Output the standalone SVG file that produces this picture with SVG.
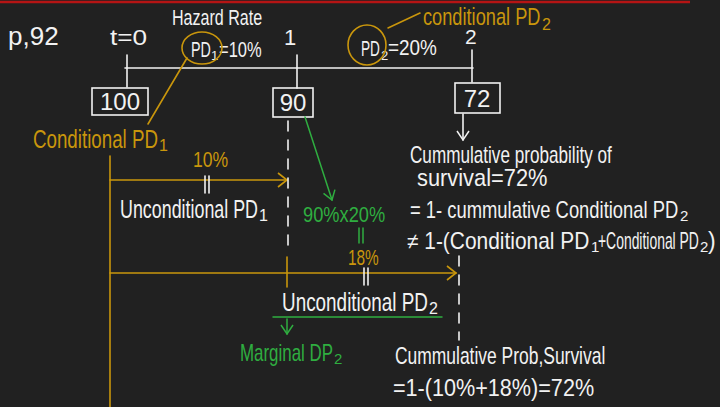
<svg xmlns="http://www.w3.org/2000/svg" width="720" height="407" viewBox="0 0 720 407">
<style>
text{font-family:"Liberation Sans","DejaVu Sans",sans-serif;}
.w{fill:#f2f2f2;}
.g{fill:#c9960c;}
.gr{fill:#2fae40;}
.lw{stroke:#f2f2f2;stroke-width:1.6;fill:none;stroke-linecap:round;}
.lg{stroke:#c9960c;stroke-width:1.6;fill:none;stroke-linecap:round;}
.lgr{stroke:#2fae40;stroke-width:1.5;fill:none;stroke-linecap:round;}
.dash{stroke-dasharray:10 9;}
</style>
<defs>
<marker id="chevG" markerWidth="12" markerHeight="16" refX="10" refY="8" orient="auto" markerUnits="userSpaceOnUse">
<polyline points="1,1 10,8 1,15" fill="none" stroke="#c9960c" stroke-width="1.6"/>
</marker>
<marker id="chevGr" markerWidth="12" markerHeight="14" refX="10" refY="7" orient="auto" markerUnits="userSpaceOnUse">
<polyline points="1,1 10,7 1,13" fill="none" stroke="#2fae40" stroke-width="1.5"/>
</marker>
<marker id="chevW" markerWidth="12" markerHeight="14" refX="10" refY="7" orient="auto" markerUnits="userSpaceOnUse">
<polyline points="1,1 10,7 1,13" fill="none" stroke="#f2f2f2" stroke-width="1.5"/>
</marker>
</defs>
<rect width="720" height="407" fill="#212121"/>
<line x1="0" y1="2" x2="690" y2="2" stroke="#b51414" stroke-width="2.5"/>

<text class="w" x="8" y="45" font-size="26">p,92</text>
<text class="w" x="110" y="45" font-size="22" transform="matrix(1.19,0,0,1,-20.9,0)">t=0</text>
<text class="w" x="172" y="25" font-size="22" transform="matrix(0.73,0,0,1,46.44,0)">Hazard Rate</text>
<text class="w" x="284" y="45" font-size="22">1</text>
<text class="w" x="465" y="44" font-size="21">2</text>

<g id="timeline">
<line class="lw" x1="125" y1="68" x2="473" y2="68"/>
<line class="lw" x1="127" y1="55" x2="127" y2="87"/>
<line class="lw" x1="297" y1="55" x2="297" y2="88"/>
<line class="lw" x1="472" y1="50" x2="472" y2="82"/>
</g>

<g id="pd1">
<text class="w" x="191" y="57" font-size="22" transform="matrix(0.65,0,0,1,66.85,0)">PD</text>
<text class="w" x="211" y="60" font-size="13">1</text>
<text class="w" x="219" y="57" font-size="22" transform="matrix(0.75,0,0,1,54.75,0)">=10%</text>
<ellipse class="lg" cx="202" cy="48" rx="20" ry="16"/>
</g>

<g id="pd2">
<text class="w" x="361" y="56" font-size="22" transform="matrix(0.62,0,0,1,137.18,0)">PD</text>
<text class="w" x="381" y="60" font-size="13">2</text>
<text class="w" x="388" y="55" font-size="22" transform="matrix(0.86,0,0,1,54.32,0)">=20%</text>
<ellipse class="lg" cx="367" cy="45" rx="19" ry="20"/>
</g>

<g id="cond-pd2">
<text class="g" x="423" y="25" font-size="24" transform="matrix(0.76,0,0,1,101.52,0)">conditional PD</text>
<text class="g" x="542" y="30" font-size="16">2</text>
</g>

<g id="node-100">
<rect class="lw" x="92" y="88" width="56" height="27"/>
<text class="w" x="120" y="110" font-size="24" text-anchor="middle">100</text>
</g>
<g id="node-90">
<rect class="lw" x="273" y="88" width="40" height="29"/>
<text class="w" x="293" y="111" font-size="24" text-anchor="middle">90</text>
</g>
<g id="node-72">
<rect class="lw" x="455" y="83" width="45" height="30"/>
<text class="w" x="477" y="107" font-size="24" text-anchor="middle">72</text>
</g>

<g id="cond-pd1">
<text class="g" x="33" y="148" font-size="25" transform="matrix(0.75,0,0,1,8.25,0)">Conditional PD</text>
<text class="g" x="159" y="151" font-size="16">1</text>
</g>

<g id="connectors">
<line class="lg" x1="187" y1="58" x2="148" y2="124"/>
<line class="lg" x1="388" y1="28" x2="420" y2="13"/>
<line class="lg" x1="110" y1="156" x2="110" y2="407"/>
<line class="lg" x1="110" y1="180" x2="287" y2="180" marker-end="url(#chevG)"/>
<line class="lg" x1="110" y1="273" x2="456" y2="273" marker-end="url(#chevG)"/>
<line class="lg" x1="287" y1="257" x2="287" y2="287"/>
<line class="lw dash" x1="288" y1="121" x2="288" y2="252"/>
<line class="lw dash" x1="459" y1="256" x2="459" y2="340"/>
<line class="lgr" x1="305" y1="117" x2="332" y2="200" marker-end="url(#chevGr)"/>
<line class="lw" x1="463" y1="114" x2="463" y2="140" marker-end="url(#chevW)"/>
<line class="lgr" x1="273" y1="317" x2="442" y2="317"/>
<line class="lgr" x1="287" y1="319" x2="287" y2="334" marker-end="url(#chevGr)"/>
<line class="lw" x1="205" y1="176" x2="205" y2="193"/>
<line class="lw" x1="209" y1="176" x2="209" y2="193"/>
<line class="lgr" x1="359" y1="228" x2="359" y2="243"/>
<line class="lgr" x1="363" y1="228" x2="363" y2="243"/>
<line class="lw" x1="364" y1="268" x2="364" y2="285"/>
<line class="lw" x1="368" y1="268" x2="368" y2="285"/>
</g>

<g id="labels">
<text class="g" x="193" y="167" font-size="22" transform="matrix(0.8,0,0,1,38.6,0)">10%</text>
<text class="w" x="120" y="218" font-size="25" transform="matrix(0.715,0,0,1,34.2,0)">Unconditional PD</text>
<text class="w" x="259" y="221" font-size="16">1</text>
<text class="gr" x="303" y="222" font-size="22" transform="matrix(0.83,0,0,1,51.51,0)">90%x20%</text>
<text class="g" x="348" y="265" font-size="22" transform="matrix(0.7,0,0,1,104.4,0)">18%</text>
<text class="w" x="282" y="311" font-size="25" transform="matrix(0.756,0,0,1,68.81,0)">Unconditional PD</text>
<text class="w" x="429" y="314" font-size="16">2</text>
<text class="gr" x="240" y="361" font-size="23" transform="matrix(0.735,0,0,1,63.6,0)">Marginal DP</text>
<text class="gr" x="334" y="364" font-size="15">2</text>
<text class="w" x="410" y="163" font-size="24" transform="matrix(0.714,0,0,1,117.26,0)">Cummulative probability of</text>
<text class="w" x="417" y="186" font-size="24" transform="matrix(0.91,0,0,1,37.53,0)">survival=72%</text>
<text class="w" x="410" y="218" font-size="23" transform="matrix(0.8,0,0,1,82,0)">= 1- cummulative Conditional PD</text>
<text class="w" x="680" y="221" font-size="15">2</text>
<text class="w" x="407" y="249" font-size="23" transform="matrix(0.91,0,0,1,36.63,0)">≠ 1-(Conditional PD</text>
<text class="w" x="591" y="252" font-size="15">1</text>
<text class="w" x="598" y="249" font-size="23" transform="matrix(0.605,0,0,1,236.21,0)">+Conditional PD</text>
<text class="w" x="700" y="252" font-size="15">2</text>
<text class="w" x="708" y="249" font-size="23">)</text>
<text class="w" x="395" y="364" font-size="24" transform="matrix(0.727,0,0,1,107.84,0)">Cummulative Prob,Survival</text>
<text class="w" x="393" y="396" font-size="24" transform="matrix(0.9,0,0,1,39.3,0)">=1-(10%+18%)=72%</text>
</g>
</svg>
